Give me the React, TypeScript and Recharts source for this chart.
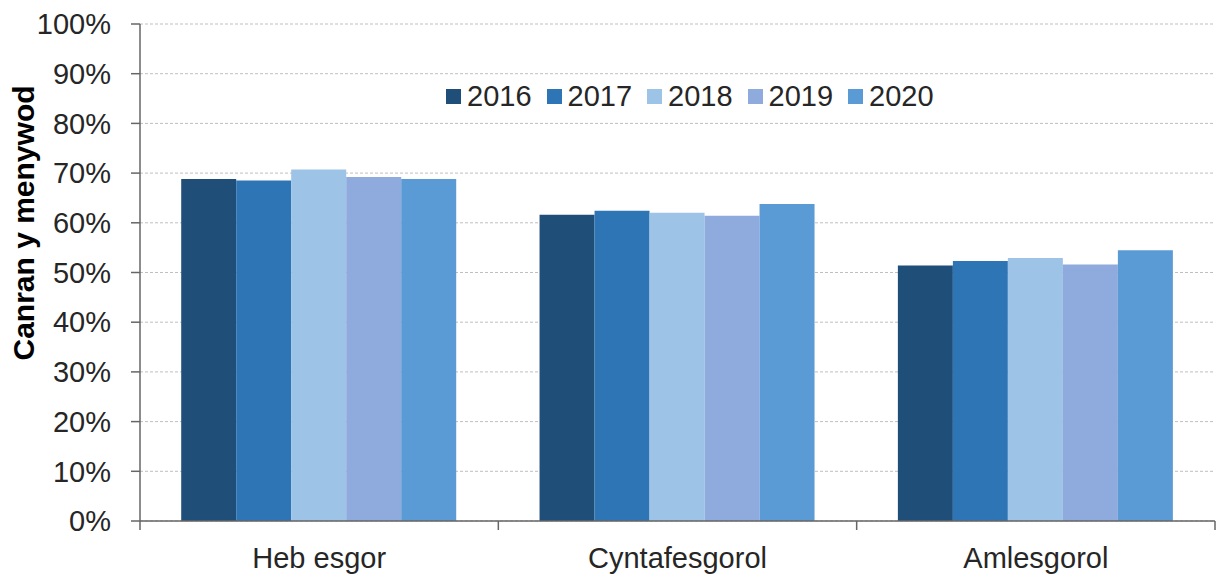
import React from 'react'
import { BarChart, Bar, XAxis, YAxis, CartesianGrid, Legend } from 'recharts'

// Share of women, by level of deprivation, 2016-2020
const categories = ['Heb esgor', 'Cyntafesgorol', 'Amlesgorol']
const years = ['2016', '2017', '2018', '2019', '2020']
const values2016 = [68.8, 61.6, 51.4]
const values2017 = [68.5, 62.4, 52.3]
const values2018 = [70.7, 62.0, 52.9]
const values2019 = [69.2, 61.4, 51.6]
const values2020 = [68.8, 63.8, 54.5]
const yTicks = [0, 10, 20, 30, 40, 50, 60, 70, 80, 90, 100]

const seriesValues = [values2016, values2017, values2018, values2019, values2020]
const colors = ['#1f4e79', '#2e75b6', '#9dc3e6', '#8faadc', '#5b9bd5']

const data = categories.map((name, i) => {
  const row: Record<string, string | number> = { name }
  years.forEach((y, k) => { row[y] = seriesValues[k][i] })
  return row
})

const FONT = '"Liberation Sans", Arial, sans-serif'
const TEXT = '#262626'
const AXIS = '#666666'

function LegendBox({ payload }: any) {
  return (
    <div style={{ display: 'flex', alignItems: 'center', fontFamily: FONT, fontSize: 29, color: TEXT, lineHeight: '32px' }}>
      {(payload || []).map((p: any) => (
        <div key={p.value} style={{ display: 'flex', alignItems: 'center', marginRight: 15 }}>
          <span style={{ width: 15, height: 15, background: p.color, marginRight: 6, display: 'inline-block' }} />
          <span>{p.value}</span>
        </div>
      ))}
    </div>
  )
}

// category label plus the tick marks on the category boundaries (Excel style)
function CategoryTick(props: any) {
  const { x, y, payload, index, visibleTicksCount, width } = props
  const n = visibleTicksCount || categories.length
  const half = width / n / 2
  const axisY = y - 26
  return (
    <g>
      <line x1={x - half} x2={x - half} y1={axisY} y2={axisY + 9} stroke={AXIS} strokeWidth={1.5} />
      {index === n - 1 && (
        <line x1={x + half} x2={x + half} y1={axisY} y2={axisY + 9} stroke={AXIS} strokeWidth={1.5} />
      )}
      <text x={x} y={y} dy="0.71em" textAnchor="middle" fill={TEXT} fontSize={29} fontFamily={FONT}>
        {payload.value}
      </text>
    </g>
  )
}

export default function App() {
  return (
    <div style={{ position: 'absolute', left: 0, top: 0, background: '#fff' }}>
      <BarChart
        width={1216}
        height={575}
        data={data}
        margin={{ top: 24, right: 1, left: 0, bottom: 0 }}
        barCategoryGap="11.5%"
        barGap={0}
      >
        <CartesianGrid vertical={false} stroke="#bfbfbf" strokeDasharray="3 2" />
        <XAxis
          dataKey="name"
          height={54}
          tickSize={0}
          tickMargin={26}
          tickLine={false}
          interval={0}
          axisLine={{ stroke: AXIS, strokeWidth: 1.5 }}
          tick={<CategoryTick />}
        />
        <YAxis
          width={140}
          domain={[0, 100]}
          ticks={yTicks}
          interval={0}
          tickFormatter={v => `${v}%`}
          tickSize={9}
          tickMargin={20}
          axisLine={{ stroke: AXIS, strokeWidth: 1.5 }}
          tickLine={{ stroke: AXIS, strokeWidth: 1.5 }}
          tick={{ fill: TEXT, fontSize: 29, fontFamily: FONT }}
          label={{
            content: () => (
              <text
                x={0}
                y={0}
                transform="translate(34 223) rotate(-90)"
                textAnchor="middle"
                fontFamily={FONT}
                fontSize={30}
                fontWeight="bold"
                fill="#000"
              >
                Canran y menywod
              </text>
            ),
          }}
        />
        <Legend
          layout="horizontal"
          verticalAlign="middle"
          align="center"
          content={<LegendBox />}
          wrapperStyle={{ left: 446, top: 80, width: 'auto', height: 32 }}
        />
        {years.map((y, k) => (
          <Bar key={y} dataKey={y} fill={colors[k]} isAnimationActive={false} />
        ))}
      </BarChart>
    </div>
  )
}
